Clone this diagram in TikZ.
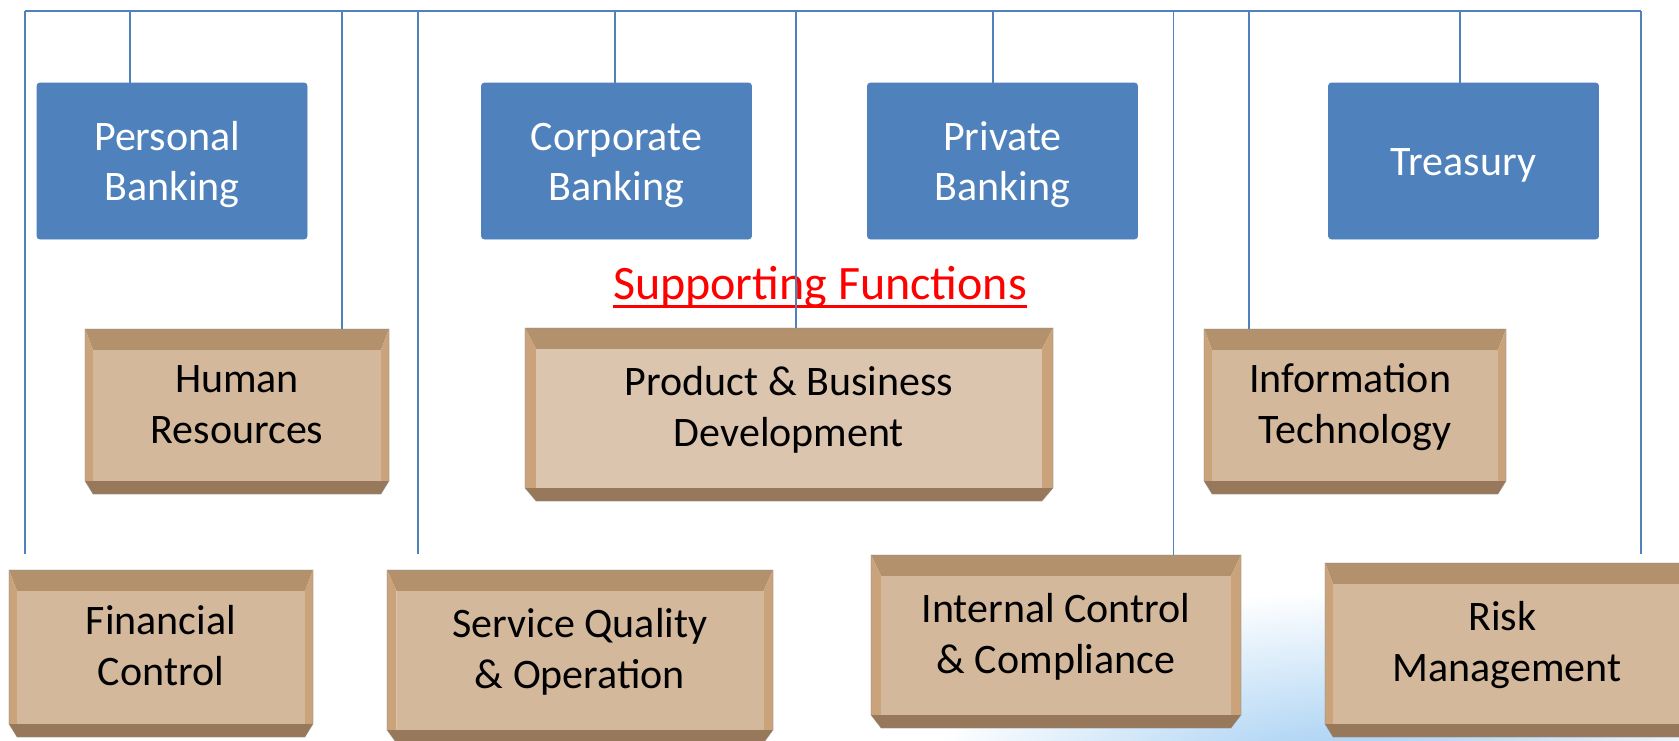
\documentclass[tikz,border=0pt]{standalone}
\usepackage{fontspec}
\setmainfont{Carlito}
\usetikzlibrary{calc}
\definecolor{obl}{HTML}{4F81BD}
\definecolor{btop}{HTML}{B3916C}
\definecolor{bside}{HTML}{CBA37A}
\definecolor{bbot}{HTML}{98785A}
\definecolor{bface}{HTML}{D3B89C}
\definecolor{bfacel}{HTML}{DBC5AE}
\definecolor{bgblue}{HTML}{92C5F0}
\tikzset{
  conn/.style={draw=obl, line width=0.6pt},
  bluebox/.style={fill=obl, draw=obl, rounded corners=1.5pt, minimum width=135pt, minimum height=78pt, inner sep=0pt},
  bluetext/.style={text=white, font=\fontsize{21}{25}\selectfont, align=center, inner sep=0pt},
  tantext/.style={text=black, font=\fontsize{21}{25.5}\selectfont, align=center, inner sep=0pt},
  boxshape/.style={rectangle, inner sep=0pt},
  bevedge/.style={draw=black!45, draw opacity=0.5, line width=0.3pt},
  sftext/.style={text=red, font=\fontsize{24}{29}\selectfont, inner sep=0pt}
}
\newcommand\bevbox[8]{%
  \fill[btop] (#2,#3) -- (#4,#3) -- (#4-#6,#3+21) -- (#2+#6,#3+21) -- cycle;
  \fill[bside] (#2,#3) -- (#2+#6,#3+21) -- (#2+#6,#5-13) -- (#2,#5-13) -- cycle;
  \fill[bside] (#4,#3) -- (#4-#6,#3+21) -- (#4-#6,#5-13) -- (#4,#5-13) -- cycle;
  \fill[bbot] (#2,#5-13) -- (#4,#5-13) -- (#4-#6,#5) -- (#2+#6,#5) -- cycle;
  \fill[#7] (#2+#6,#3+21) rectangle (#4-#6,#5-13);
  \draw[bevedge] (#2,#5-13) -- (#2,#3) -- (#4,#3) -- (#4,#5-13) -- (#4-#6,#5) -- (#2+#6,#5) -- cycle;
  \node[boxshape, minimum width={(#4-#2)*0.5pt}, minimum height={(#5-#3)*0.5pt}] (#1) at ({(#2+#4)/2},{(#3+#5)/2}) {};
  \node[tantext] (#1-t) at ([yshift=2pt]#1.center) {#8};
}
\begin{document}
\begin{tikzpicture}[x=0.5pt,y=-0.5pt]
\useasboundingbox (0,0) rectangle (1679,740);
\fill[white] (0,0) rectangle (1679,740);
\begin{scope}
  \clip (0,0) rectangle (1679,740);
  \shade[inner color=bgblue, outer color=white] (1350,800) ellipse [x radius=430, y radius=210];
\end{scope}

% blue business boxes
\node[bluebox] (PB) at (172,161) {};
\node[bluetext] (PB-t) at ([yshift=-2pt]PB.center) {\strut Personal\kern0.23em\\\strut Banking};
\node[bluebox] (CB) at (616.5,161) {};
\node[bluetext] (CB-t) at ([yshift=-2pt]CB.center) {\strut Corporate\\\strut Banking};
\node[bluebox] (PrB) at (1002.5,161) {};
\node[bluetext] (PrB-t) at ([yshift=-2pt]PrB.center) {\strut Private\\\strut Banking};
\node[bluebox] (Tr) at (1463.5,161) {};
\node[bluetext] (Tr-t) at ([yshift=-2pt]Tr.center) {\strut Treasury};

% supporting function boxes
\bevbox{HR}{85}{329}{389}{494}{8}{bface}{\strut Human\\\strut Resources}
\bevbox{PBD}{525}{328}{1053}{501}{11}{bfacel}{\strut Product \& Business\\\strut Development}
\bevbox{IT}{1204}{329}{1506}{494}{8}{bface}{\strut Information\kern0.23em\\\strut Technology}
\bevbox{FC}{9}{570}{313}{737}{8}{bface}{\strut Financial\\\strut Control}
\bevbox{SQ}{387}{570}{773}{743}{9.5}{bface}{\strut Service Quality\\\strut \& Operation}
\bevbox{IC}{871}{555}{1241}{728}{10}{bface}{\strut Internal Control\\\strut \& Compliance}
\bevbox{RM}{1325}{563}{1689}{737}{8}{bface}{\strut Risk\kern0.23em\\\strut Management}

% title
\node[sftext, anchor=base] (sf) at (820,299) {Supporting Functions};
\draw[red, line width=1.35pt] ($(sf.base west)+(0,7.7)$) -- ($(sf.base east)+(0,7.7)$);

% connectors
\coordinate (L0) at (25,11);
\coordinate (R0) at (1641,11);
\coordinate (b418) at (418,11);
\coordinate (e1) at (25,554);
\coordinate (e2) at (418,554);
\coordinate (e3) at (1641,554);
\draw[conn] (L0) -- (R0);
\draw[conn] (L0) -- (e1);
\draw[conn] (b418) -- (e2);
\draw[conn] (R0) -- (e3);
\coordinate (bPB) at (130,11);
\coordinate (bHR) at (342,11);
\coordinate (bCB) at (615,11);
\coordinate (bPBD) at (796,11);
\coordinate (bPrB) at (993,11);
\coordinate (bIC) at (1173.5,11);
\coordinate (bIT) at (1249,11);
\coordinate (bTr) at (1460,11);
\draw[conn] (bPB) -- (bPB |- PB.north);
\draw[conn] (bHR) -- (bHR |- HR.north);
\draw[conn] (bCB) -- (bCB |- CB.north);
\draw[conn] (bPBD) -- (bPBD |- PBD.north);
\draw[conn] (bPrB) -- (bPrB |- PrB.north);
\draw[conn] (bIC) -- (bIC |- IC.north);
\draw[conn] (bIT) -- (bIT |- IT.north);
\draw[conn] (bTr) -- (bTr |- Tr.north);
\end{tikzpicture}
\end{document}
